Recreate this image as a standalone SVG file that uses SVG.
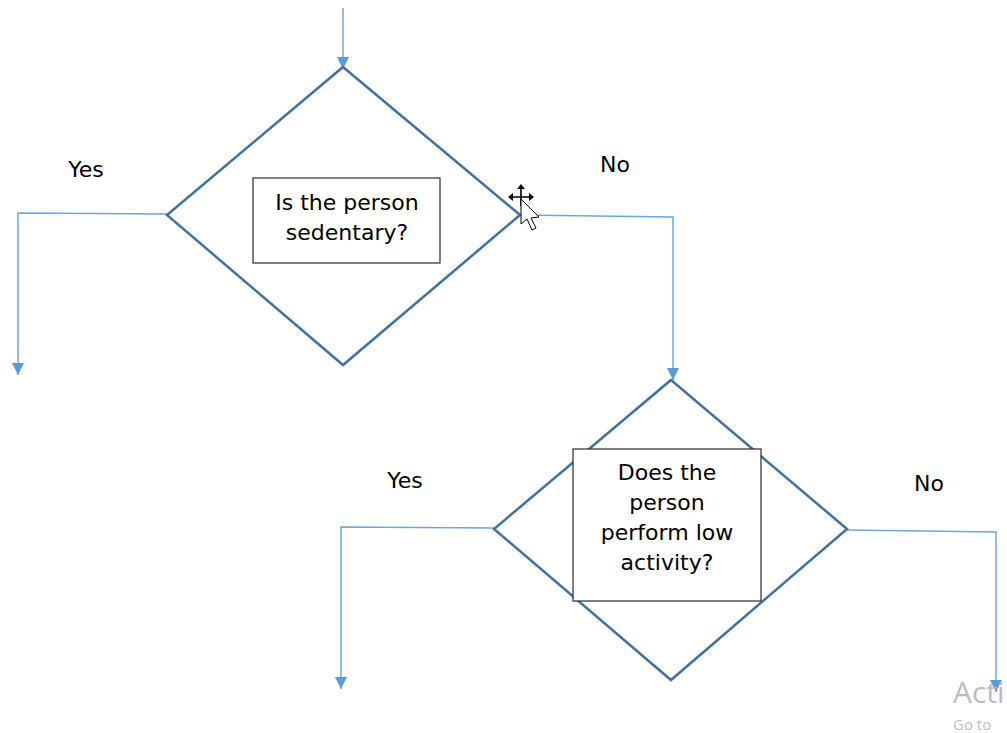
<svg xmlns="http://www.w3.org/2000/svg" width="1007" height="733" viewBox="0 0 1007 733">
<style>
.dia{fill:#fff;stroke:#41719C;stroke-width:2.5}
.box{fill:#fff;stroke:#2b2b2b;stroke-width:1.2}
.con{fill:none;stroke:#6FA6DA;stroke-width:1.5}
.t{font-family:"DejaVu Sans",Verdana,sans-serif;font-size:22px;fill:#000;text-anchor:middle}
.lbl{font-family:"DejaVu Sans",Verdana,sans-serif;font-size:22px;fill:#000;text-anchor:middle}
.wm{font-family:"Open Sans","Noto Sans",sans-serif;fill:#BDBDBD}
</style>
<defs>
<marker id="arr" viewBox="0 0 12 12" refX="12" refY="6" markerWidth="12" markerHeight="12" markerUnits="userSpaceOnUse" orient="auto">
<path d="M0,0 L12,6 L0,12 Z" fill="#5B9BD5"/>
</marker>
</defs>
<g id="connectors">
<path class="con" d="M343,8 L343,69" marker-end="url(#arr)"/>
<path class="con" d="M167,214 L18,213 L18,375" marker-end="url(#arr)"/>
<path class="con" d="M520,215 L673,217 L673,380" marker-end="url(#arr)"/>
<path class="con" d="M494,528 L341,527 L341,689" marker-end="url(#arr)"/>
<path class="con" d="M847,530 L996,532 L996,692" marker-end="url(#arr)"/>
</g>
<g id="decision1">
<polygon class="dia" points="343,67 520,215 343,365 167,215"/>
<rect class="box" x="253" y="178" width="187" height="85"/>
<text class="t" x="347" y="210">Is the person</text>
<text class="t" x="347" y="240">sedentary?</text>
</g>
<g id="decision2">
<polygon class="dia" points="671,380 847,529 671,680 494,529"/>
<rect class="box" x="573" y="449" width="188" height="152"/>
<text class="t" x="667" y="480">Does the</text>
<text class="t" x="667" y="510">person</text>
<text class="t" x="667" y="540">perform low</text>
<text class="t" x="667" y="570">activity?</text>
</g>
<g id="labels">
<text class="lbl" x="86" y="177">Yes</text>
<text class="lbl" x="615" y="172">No</text>
<text class="lbl" x="405" y="488">Yes</text>
<text class="lbl" x="929" y="491">No</text>
</g>
<g id="cursor">
<g stroke="#000" stroke-width="1.6" fill="none">
<path d="M521,188 L521,206 M512,197 L530,197"/>
</g>
<g fill="#000">
<polygon points="521,184 517,189 525,189"/>
<polygon points="508,197 513,193 513,201"/>
<polygon points="534,197 529,193 529,201"/>
</g>
<polygon points="521,199 521,224 527,219 532,230 536,228 531,218 539,217" fill="#fff" stroke="#000" stroke-width="1"/>
</g>
<g id="watermark">
<text class="wm" x="953" y="703" font-size="30">Acti</text>
<text class="wm" x="953" y="730" font-size="15">Go to</text>
</g>
</svg>
